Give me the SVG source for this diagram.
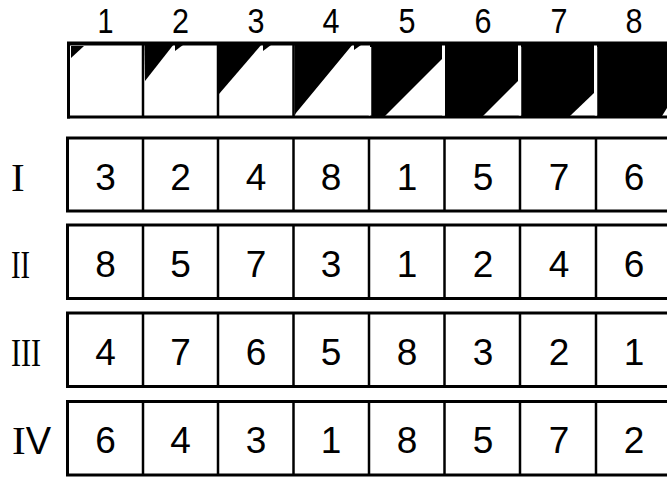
<svg xmlns="http://www.w3.org/2000/svg" width="667" height="477" viewBox="0 0 667 477">
<style>
.bg{fill:#fff}
.box{fill:#fff;stroke:#000;stroke-width:3}
.div{stroke:#000;stroke-width:2.5}
.wdiv{stroke:#fff;stroke-width:2.5}
.blk{fill:#000}
.hd{font-family:"Liberation Sans","DejaVu Sans",sans-serif;font-size:35px;text-anchor:middle;fill:#000}
.num{font-family:"Liberation Sans","DejaVu Sans",sans-serif;font-size:37px;text-anchor:middle;fill:#000}
.rom{font-family:"Liberation Serif","DejaVu Serif",serif;font-size:41px;fill:#000}
.romv{font-family:"Liberation Sans","DejaVu Sans",sans-serif;font-size:38px}
</style>
<rect class="bg" x="0" y="0" width="667" height="477"/>

<g id="header">
  <g id="header-labels">
    <text class="hd" x="105.5" y="33" textLength="16" lengthAdjust="spacingAndGlyphs">1</text>
    <text class="hd" x="180.5" y="33" textLength="17" lengthAdjust="spacingAndGlyphs">2</text>
    <text class="hd" x="256" y="33" textLength="17" lengthAdjust="spacingAndGlyphs">3</text>
    <text class="hd" x="331" y="33" textLength="17" lengthAdjust="spacingAndGlyphs">4</text>
    <text class="hd" x="407" y="33" textLength="17" lengthAdjust="spacingAndGlyphs">5</text>
    <text class="hd" x="483" y="33" textLength="17" lengthAdjust="spacingAndGlyphs">6</text>
    <text class="hd" x="559" y="33" textLength="17" lengthAdjust="spacingAndGlyphs">7</text>
    <text class="hd" x="634" y="33" textLength="17" lengthAdjust="spacingAndGlyphs">8</text>
  </g>
  <rect x="68" y="43" width="604" height="74" fill="#fff"/>
  <g id="cell-1"><polygon class="blk" points="71,46 84,46 71,58"/></g>
  <g id="cell-2"><polygon class="blk" points="144.5,44 174,44 145,81"/><polygon class="blk" points="175,45 183,45 175,51"/></g>
  <g id="cell-3"><polygon class="blk" points="219,44 262,44 219,94"/><polygon class="blk" points="263,45 271,45 263,51"/></g>
  <g id="cell-4"><polygon class="blk" points="294.5,44 353,44 296,113 294.5,116"/><polygon class="blk" points="354,45 361,45 354,50"/></g>
  <g id="cell-5"><polygon class="blk" points="370,44 442,44 442,59 385,116 370,116"/></g>
  <g id="cell-6"><polygon class="blk" points="445,44 518,44 518,81 483,116 445,116"/></g>
  <g id="cell-7"><polygon class="blk" points="521,44 594,44 594,93 570,116 521,116"/></g>
  <g id="cell-8"><polygon class="blk" points="597,44 667,44 667,108 662,116 597,116"/></g>
  <line x1="67" y1="43.5" x2="667" y2="43.5" stroke="#000" stroke-width="4"/>
  <line x1="67" y1="117" x2="667" y2="117" stroke="#000" stroke-width="3"/>
  <line x1="68.5" y1="42" x2="68.5" y2="118.5" stroke="#000" stroke-width="3"/>
  <line class="div" x1="143" y1="42" x2="143" y2="118"/>
  <line class="div" x1="218" y1="42" x2="218" y2="118"/>
  <line class="div" x1="293.5" y1="42" x2="293.5" y2="118"/>
  <line class="wdiv" x1="370" y1="47" x2="370" y2="115.5"/>
  <line class="wdiv" x1="443.5" y1="47" x2="443.5" y2="115.5"/>
  <line class="wdiv" x1="520" y1="47" x2="520" y2="115.5"/>
  <line class="wdiv" x1="596" y1="47" x2="596" y2="115.5"/>
</g>

<g id="row-I">
  <text class="rom" x="11" y="191">I</text>
  <rect class="box" x="67.5" y="138" width="610" height="73"/>
  <line class="div" x1="143" y1="138" x2="143" y2="211"/>
  <line class="div" x1="218" y1="138" x2="218" y2="211"/>
  <line class="div" x1="293.5" y1="138" x2="293.5" y2="211"/>
  <line class="div" x1="369" y1="138" x2="369" y2="211"/>
  <line class="div" x1="444.5" y1="138" x2="444.5" y2="211"/>
  <line class="div" x1="520" y1="138" x2="520" y2="211"/>
  <line class="div" x1="596" y1="138" x2="596" y2="211"/>
  <text class="num" x="105.5" y="190">3</text>
  <text class="num" x="180.5" y="190">2</text>
  <text class="num" x="256" y="190">4</text>
  <text class="num" x="331" y="190">8</text>
  <text class="num" x="407" y="190">1</text>
  <text class="num" x="483" y="190">5</text>
  <text class="num" x="559" y="190">7</text>
  <text class="num" x="634" y="190">6</text>
</g>

<g id="row-II">
  <text class="rom" x="11" y="278" textLength="19" lengthAdjust="spacingAndGlyphs">II</text>
  <rect class="box" x="67.5" y="225" width="610" height="73.5"/>
  <line class="div" x1="143" y1="225" x2="143" y2="298.5"/>
  <line class="div" x1="218" y1="225" x2="218" y2="298.5"/>
  <line class="div" x1="293.5" y1="225" x2="293.5" y2="298.5"/>
  <line class="div" x1="369" y1="225" x2="369" y2="298.5"/>
  <line class="div" x1="444.5" y1="225" x2="444.5" y2="298.5"/>
  <line class="div" x1="520" y1="225" x2="520" y2="298.5"/>
  <line class="div" x1="596" y1="225" x2="596" y2="298.5"/>
  <text class="num" x="105.5" y="277">8</text>
  <text class="num" x="180.5" y="277">5</text>
  <text class="num" x="256" y="277">7</text>
  <text class="num" x="331" y="277">3</text>
  <text class="num" x="407" y="277">1</text>
  <text class="num" x="483" y="277">2</text>
  <text class="num" x="559" y="277">4</text>
  <text class="num" x="634" y="277">6</text>
</g>

<g id="row-III">
  <text class="rom" x="11" y="366" textLength="30" lengthAdjust="spacingAndGlyphs">III</text>
  <rect class="box" x="67.5" y="313" width="610" height="73.5"/>
  <line class="div" x1="143" y1="313" x2="143" y2="386.5"/>
  <line class="div" x1="218" y1="313" x2="218" y2="386.5"/>
  <line class="div" x1="293.5" y1="313" x2="293.5" y2="386.5"/>
  <line class="div" x1="369" y1="313" x2="369" y2="386.5"/>
  <line class="div" x1="444.5" y1="313" x2="444.5" y2="386.5"/>
  <line class="div" x1="520" y1="313" x2="520" y2="386.5"/>
  <line class="div" x1="596" y1="313" x2="596" y2="386.5"/>
  <text class="num" x="105.5" y="365">4</text>
  <text class="num" x="180.5" y="365">7</text>
  <text class="num" x="256" y="365">6</text>
  <text class="num" x="331" y="365">5</text>
  <text class="num" x="407" y="365">8</text>
  <text class="num" x="483" y="365">3</text>
  <text class="num" x="559" y="365">2</text>
  <text class="num" x="634" y="365">1</text>
</g>

<g id="row-IV">
  <text class="rom" x="12" y="454">I<tspan class="romv">V</tspan></text>
  <rect class="box" x="67.5" y="401.5" width="610" height="73.5"/>
  <line class="div" x1="143" y1="401.5" x2="143" y2="475"/>
  <line class="div" x1="218" y1="401.5" x2="218" y2="475"/>
  <line class="div" x1="293.5" y1="401.5" x2="293.5" y2="475"/>
  <line class="div" x1="369" y1="401.5" x2="369" y2="475"/>
  <line class="div" x1="444.5" y1="401.5" x2="444.5" y2="475"/>
  <line class="div" x1="520" y1="401.5" x2="520" y2="475"/>
  <line class="div" x1="596" y1="401.5" x2="596" y2="475"/>
  <text class="num" x="105.5" y="453">6</text>
  <text class="num" x="180.5" y="453">4</text>
  <text class="num" x="256" y="453">3</text>
  <text class="num" x="331" y="453">1</text>
  <text class="num" x="407" y="453">8</text>
  <text class="num" x="483" y="453">5</text>
  <text class="num" x="559" y="453">7</text>
  <text class="num" x="634" y="453">2</text>
</g>
</svg>
